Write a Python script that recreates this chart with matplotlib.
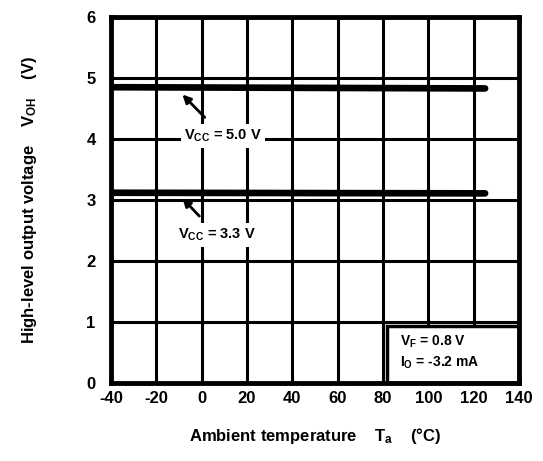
import matplotlib
matplotlib.use('Agg')
import matplotlib.pyplot as plt
from matplotlib.patches import Rectangle

plt.rcParams['font.family'] = ['Liberation Sans', 'DejaVu Sans']
plt.rcParams['font.weight'] = 'bold'
plt.rcParams['axes.labelweight'] = 'bold'
plt.rcParams['axes.unicode_minus'] = False
plt.rcParams['mathtext.fontset'] = 'custom'
plt.rcParams['mathtext.rm'] = 'Liberation Sans:bold'
plt.rcParams['mathtext.it'] = 'Liberation Sans:bold'
plt.rcParams['mathtext.default'] = 'rm'

# Data
temp = [-40, 125]
voh_5v = [4.85, 4.83]
voh_3v3 = [3.12, 3.11]

x_ticks = [-40, -20, 0, 20, 40, 60, 80, 100, 120, 140]
y_ticks = [0, 1, 2, 3, 4, 5, 6]

fig = plt.figure(figsize=(5.43, 4.61), dpi=100)
ax = fig.add_axes([0.2044, 0.169, 0.7516, 0.794])

ax.plot(temp, voh_5v, color='black', lw=4.8, solid_capstyle='round', zorder=3)
ax.plot(temp, voh_3v3, color='black', lw=4.8, solid_capstyle='round', zorder=3)

ax.set_xlim(-40, 140)
ax.set_ylim(0, 6)
ax.set_xticks(x_ticks)
ax.set_yticks(y_ticks)
ax.grid(True, color='black', lw=2.2)
ax.set_axisbelow(True)
ax.tick_params(length=0, labelsize=12)
ax.tick_params(axis='y', pad=11)
ax.tick_params(axis='x', pad=6)
for s in ax.spines.values():
    s.set_linewidth(3.5)
    s.set_zorder(5)

ax.set_xlabel('Ambient temperature    T$_a$    (°C)', fontsize=12, labelpad=14)
ax.set_ylabel('High-level output voltage    V$_{OH}$    (V)', fontsize=12, labelpad=34)

bb = dict(facecolor='white', edgecolor='none', pad=2.5)
ax.annotate('V$_{CC}$ = 5.0 V', xy=(-8.5, 4.73), xytext=(9.4, 4.05),
            ha='center', va='center', fontsize=10.5, bbox=bb, zorder=4,
            arrowprops=dict(arrowstyle='-|>', color='black', lw=2,
                            mutation_scale=12, shrinkA=7, shrinkB=0))
ax.annotate('V$_{CC}$ = 3.3 V', xy=(-8.5, 3.03), xytext=(6.8, 2.43),
            ha='center', va='center', fontsize=10.5, bbox=bb, zorder=4,
            arrowprops=dict(arrowstyle='-|>', color='black', lw=2,
                            mutation_scale=12, shrinkA=7, shrinkB=0))

ax.add_patch(Rectangle((81.7, 0), 58.3, 0.93, facecolor='white',
                       edgecolor='black', lw=2.5, zorder=4))
ax.text(87.5, 0.67, 'V$_F$ = 0.8 V', fontsize=10, va='center', zorder=6)
ax.text(87.5, 0.33, 'I$_O$ = -3.2 mA', fontsize=10, va='center', zorder=6)

fig.savefig('out.png', dpi=100)
